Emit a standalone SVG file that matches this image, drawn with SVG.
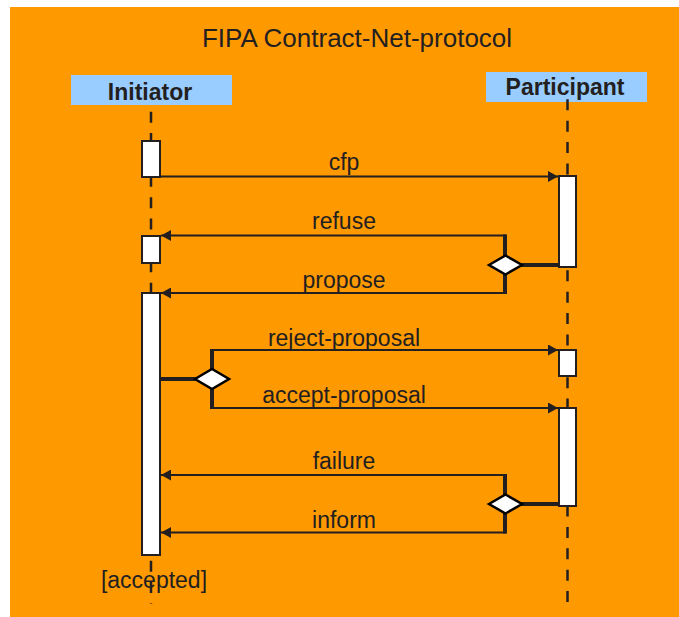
<svg xmlns="http://www.w3.org/2000/svg" width="679" height="617" viewBox="0 0 679 617">
<defs>
<style>
.lbl{font-family:"Liberation Sans",Arial,sans-serif;font-size:23px;fill:#231f20;text-anchor:middle}
.name{font-family:"Liberation Sans",Arial,sans-serif;font-size:23px;font-weight:bold;fill:#231f20;text-anchor:middle}
.title{font-family:"Liberation Sans",Arial,sans-serif;font-size:26px;fill:#231f20;text-anchor:middle}
.life{stroke:#231f20;stroke-width:2.5;stroke-dasharray:11 10.38;fill:none}
.act{fill:#ffffff;stroke:#231f20;stroke-width:2}
.msg{stroke:#231f20;stroke-width:2;fill:none}
.thick{stroke:#231f20;stroke-width:4;fill:none}
.dia{fill:#ffffff;stroke:#000000;stroke-width:2.5}
.head{fill:#231f20;stroke:none}
</style>
<marker id="arr" viewBox="0 0 10 11" refX="10" refY="5.5" markerWidth="10" markerHeight="11" markerUnits="userSpaceOnUse" orient="auto">
<path d="M0,0 L10,5.5 L0,11 Z" class="head"/>
</marker>
</defs>
<rect x="10" y="7" width="669" height="610" fill="#ff9900"/>
<text class="title" x="357" y="47">FIPA Contract-Net-protocol</text>

<g id="initiator">
<rect x="71" y="75" width="161" height="30" fill="#99ccff"/>
<text class="name" x="150" y="100">Initiator</text>
<line class="life" x1="151" y1="111.7" x2="151" y2="604"/>
<rect class="act" x="142" y="141" width="18" height="36"/>
<rect class="act" x="142" y="236" width="18" height="27"/>
<rect class="act" x="142" y="293" width="18" height="262"/>
<text class="lbl" x="154" y="588">[accepted]</text>
</g>

<g id="participant">
<rect x="486" y="72" width="161" height="30" fill="#99ccff"/>
<text class="name" x="565" y="95">Participant</text>
<line class="life" x1="567.5" y1="99.3" x2="567.5" y2="602"/>
<rect class="act" x="559" y="176" width="17" height="91"/>
<rect class="act" x="559" y="350" width="17" height="26"/>
<rect class="act" x="559" y="408" width="17" height="98"/>
</g>

<g id="connectors">
<line class="msg" x1="161" y1="176.5" x2="558" y2="176.5" marker-end="url(#arr)"/>
<text class="lbl" x="344" y="170">cfp</text>

<path class="thick" d="M558,265 L505,265"/>
<path class="thick" d="M505,234.5 L505,294"/>
<line class="msg" x1="506" y1="235.5" x2="161" y2="235.5" marker-end="url(#arr)"/>
<line class="msg" x1="506" y1="293" x2="161" y2="293" marker-end="url(#arr)"/>
<polygon class="dia" points="489,265 505.5,255.5 522,265 505.5,274.5"/>
<text class="lbl" x="344" y="229">refuse</text>
<text class="lbl" x="344" y="288">propose</text>

<path class="thick" d="M161,379 L212,379"/>
<path class="thick" d="M212,349 L212,409"/>
<line class="msg" x1="211" y1="350" x2="558" y2="350" marker-end="url(#arr)"/>
<line class="msg" x1="211" y1="408" x2="558" y2="408" marker-end="url(#arr)"/>
<polygon class="dia" points="195,379 212,369 229,379 212,389"/>
<text class="lbl" x="344" y="346">reject-proposal</text>
<text class="lbl" x="344" y="403">accept-proposal</text>

<path class="thick" d="M558,504 L505,504"/>
<path class="thick" d="M505,474 L505,533.5"/>
<line class="msg" x1="506" y1="475" x2="161" y2="475" marker-end="url(#arr)"/>
<line class="msg" x1="506" y1="532.5" x2="161" y2="532.5" marker-end="url(#arr)"/>
<polygon class="dia" points="489,504 505.5,494.5 522,504 505.5,513.5"/>
<text class="lbl" x="344" y="469">failure</text>
<text class="lbl" x="344" y="528">inform</text>
</g>
</svg>
